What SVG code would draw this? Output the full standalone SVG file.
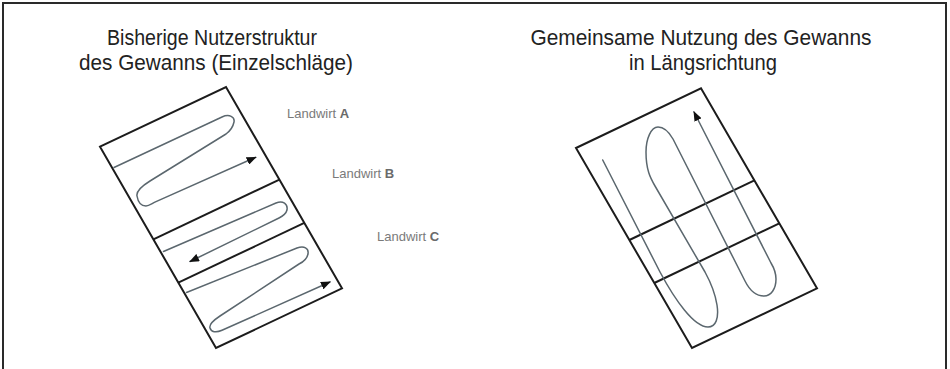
<svg xmlns="http://www.w3.org/2000/svg" width="950" height="369" viewBox="0 0 950 369">
  <style>
    .frame { fill: none; stroke: #2a2a2a; stroke-width: 2; }
    .field { fill: none; stroke: #1c1c1c; stroke-width: 2; stroke-linejoin: miter; }
    .div { fill: none; stroke: #1c1c1c; stroke-width: 2; }
    .track { fill: none; stroke: #5b676e; stroke-width: 1.5; stroke-linecap: round; stroke-linejoin: round; }
    .title { font-family: "Liberation Sans", Arial, sans-serif; font-size: 22px; fill: #222; text-anchor: middle; }
    .lab { font-family: "Liberation Sans", Arial, sans-serif; font-size: 13px; fill: #7a7a7a; }
    .lab tspan { font-weight: bold; fill: #6a6a6a; }
  </style>
  <defs>
    <marker id="arr" markerUnits="userSpaceOnUse" viewBox="0 0 10 8" refX="9" refY="4" markerWidth="10" markerHeight="8" orient="auto">
      <path d="M0,0 L10,4 L0,8 Z" fill="#111"/>
    </marker>
  </defs>
  <rect width="950" height="369" fill="#ffffff"/>
  <path class="frame" d="M3,372 V3 H946 V372"/>

  <g id="title-left">
    <text class="title" x="212" y="45" textLength="210" lengthAdjust="spacingAndGlyphs">Bisherige Nutzerstruktur</text>
    <text class="title" x="216" y="70" textLength="274" lengthAdjust="spacingAndGlyphs">des Gewanns (Einzelschläge)</text>
  </g>
  <g id="title-right">
    <text class="title" x="701" y="45" textLength="341" lengthAdjust="spacingAndGlyphs">Gemeinsame Nutzung des Gewanns</text>
    <text class="title" x="703" y="70" textLength="148" lengthAdjust="spacingAndGlyphs">in Längsrichtung</text>
  </g>

  <g id="field-left">
    <polygon class="field" points="100,146.7 226,87 342,288.3 216,348"/>
    <line class="div" x1="153.4" y1="239.3" x2="279.4" y2="179.6"/>
    <line class="div" x1="178.3" y1="282.6" x2="304.3" y2="222.9"/>
  </g>
  <g id="field-right">
    <polygon class="field" points="576,148 701,88.3 817,288.3 692,348"/>
    <line class="div" x1="629.4" y1="240" x2="754.4" y2="180.3"/>
    <line class="div" x1="654.3" y1="283" x2="779.3" y2="223.3"/>
  </g>

  <g id="labels">
    <text id="landwirt-a" class="lab" x="287" y="117.5">Landwirt <tspan>A</tspan></text>
    <text id="landwirt-b" class="lab" x="332" y="177.5">Landwirt <tspan>B</tspan></text>
    <text id="landwirt-c" class="lab" x="377" y="241">Landwirt <tspan>C</tspan></text>
  </g>

  <g id="tracks">
    <path class="track" marker-end="url(#arr)" d="M114,167.5 L222,117 C229.4,113.6 235,117 234,122 C233,127 230,131 226,134 L150,181 C141,186.6 136,191 137,196 C138,202 141,206 146,206 C149,206 152,203.4 156,201.6 L255.7,157.3"/>
    <path class="track" marker-end="url(#arr)" d="M163.5,251.5 L276,203 C283,200 288,204 287,210 C286,214 283,216 279,218 L190,261.5"/>
    <path class="track" marker-end="url(#arr)" d="M186.5,292.5 L297,248 C304,245.5 309,248 308,254 C307,259 303,262 299,264 L220,316 C212,321.3 209,325 210,328 C211,332 216,333 222,330.3 L330,282"/>
    <path class="track" marker-end="url(#arr)" d="M602.7,160 L660,272 C675,300 694,327 708,327 C716,327 719,318 717,305 C715,292 711,283 705,272 L655,186 C650.4,178 646,170 646,152 C646,139 651,127 658,127 C664,127 669,132 673,139 L745,281 C750,291 757,296 764,296 C771,296 776,289 776,279 C776,273 774,268 771,263 L694,112"/>
  </g>
</svg>
